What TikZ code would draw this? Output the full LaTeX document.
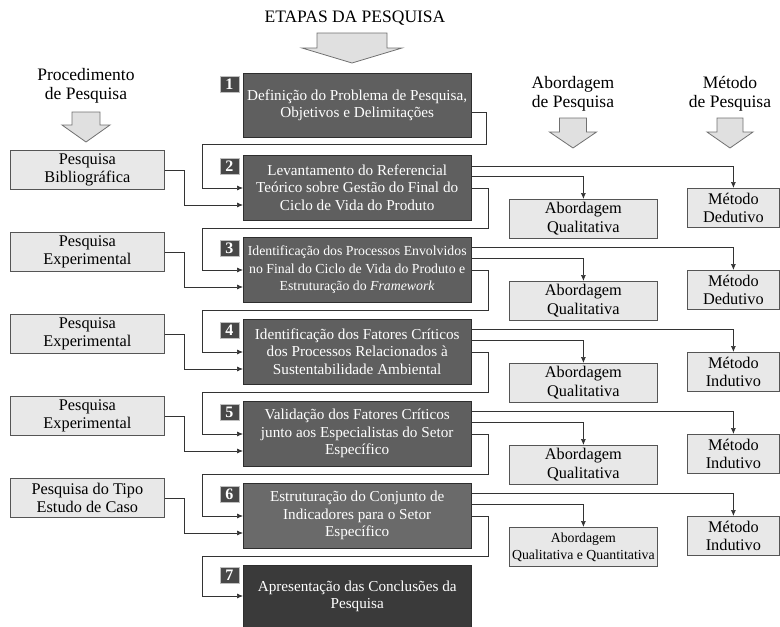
\documentclass[tikz,border=0pt]{standalone}
\usepackage{fontspec}
\setmainfont{Liberation Serif}
\usetikzlibrary{arrows.meta,calc}
\definecolor{mainfill}{HTML}{5F5F5F}
\definecolor{sixfill}{HTML}{6A6A6A}
\definecolor{sevenfill}{HTML}{3A3A3A}
\definecolor{stageline}{HTML}{2E2E2E}
\definecolor{numfill}{HTML}{484848}
\definecolor{lightfill}{HTML}{E8E8E8}
\definecolor{lightline}{HTML}{555555}
\definecolor{connc}{HTML}{333333}
\definecolor{arrowfill}{HTML}{E0E0E0}
\definecolor{arrowline}{HTML}{707070}
\newcommand{\bkarrow}[5]{\draw[blockarrow] (#1-#3,#2) -- (#1+#3,#2) -- (#1+#3,#2+#5) -- (#1+#4,#2+#5) -- (#1,#2+30) -- (#1-#4,#2+#5) -- (#1-#3,#2+#5) -- cycle;}
\begin{document}
\begin{tikzpicture}[x=1pt,y=-1pt,
  stage/.style={draw=stageline, fill=mainfill, text=white, minimum width=228pt, minimum height=65pt, inner sep=0pt, align=center, anchor=north west, font=\fontsize{15.2}{17.5}\selectfont},
  numbox/.style={draw=white!75!black, fill=numfill, text=white, minimum width=19pt, minimum height=16pt, inner sep=0pt, anchor=north east, font=\fontsize{16}{16}\selectfont\bfseries},
  lbox/.style={draw=lightline, fill=lightfill, minimum width=154pt, minimum height=39pt, inner sep=0pt, align=center, anchor=north west, line width=0.8pt, font=\fontsize{16.3}{18.5}\selectfont},
  abox/.style={lbox, minimum width=148pt},
  mbox/.style={lbox, minimum width=92pt},
  conn/.style={draw=connc, line width=0.7pt, -{Latex[length=6pt,width=5pt]}},
  head/.style={align=center, font=\fontsize{17.5}{19}\selectfont},
  blockarrow/.style={fill=arrowfill, draw=arrowline, line width=0.8pt, line join=miter}
]
\useasboundingbox (0,0) rectangle (780,627);

% headings
\node[head] (title) at (355,18) {ETAPAS DA PESQUISA};
\node[head] (hproc) at (86,86) {Procedimento\\de Pesquisa};
\node[head] (habor) at (573,94) {Abordagem\\de Pesquisa};
\node[head] (hmet) at (730,94) {Método\\de Pesquisa};
\bkarrow{352}{33}{35}{50}{15}
\bkarrow{86}{112}{14}{24}{13}
\bkarrow{573}{118}{13.5}{23.5}{14}
\bkarrow{730}{118}{13}{23}{14}

% stages
\node[stage, minimum height=64pt] (b1) at (243,73) {Definição do Problema de Pesquisa,\\Objetivos e Delimitações};
\node[stage] (b2) at (243,155) {Levantamento do Referencial\\Teórico sobre Gestão do Final do\\Ciclo de Vida do Produto};
\node[stage, font=\fontsize{13.8}{17.5}\selectfont] (b3) at (243,237) {Identificação dos Processos Envolvidos\\no Final do Ciclo de Vida do Produto e\\Estruturação do \textit{Framework}};
\node[stage] (b4) at (243,319) {Identificação dos Fatores Críticos\\dos Processos Relacionados à\\Sustentabilidade Ambiental};
\node[stage] (b5) at (243,401) {Validação dos Fatores Críticos\\junto aos Especialistas do Setor\\Específico};
\node[stage, fill=sixfill] (b6) at (243,483) {Estruturação do Conjunto de\\Indicadores para o Setor\\Específico};
\node[stage, fill=sevenfill, minimum height=62pt] (b7) at (243,565) {Apresentação das Conclusões da\\Pesquisa};

\node[numbox] (n1) at ([xshift=-4pt,yshift=-3pt]b1.north west) {1};
\node[numbox] (n2) at ([xshift=-4pt,yshift=-3pt]b2.north west) {2};
\node[numbox] (n3) at ([xshift=-4pt,yshift=-3pt]b3.north west) {3};
\node[numbox] (n4) at ([xshift=-4pt,yshift=-3pt]b4.north west) {4};
\node[numbox] (n5) at ([xshift=-4pt,yshift=-3pt]b5.north west) {5};
\node[numbox] (n6) at ([xshift=-4pt,yshift=-3pt]b6.north west) {6};
\node[numbox] (n7) at ([xshift=-4pt,yshift=-2pt]b7.north west) {7};

% left boxes
\node[lbox] (l2) at (10,150) {Pesquisa\\Bibliográfica};
\node[lbox] (l3) at (10,232) {Pesquisa\\Experimental};
\node[lbox] (l4) at (10,314) {Pesquisa\\Experimental};
\node[lbox] (l5) at (10,396) {Pesquisa\\Experimental};
\node[lbox] (l6) at (10,478) {Pesquisa do Tipo\\Estudo de Caso};

% right boxes
\node[abox] (a2) at (509,199) {Abordagem\\Qualitativa};
\node[abox] (a3) at (509,281) {Abordagem\\Qualitativa};
\node[abox] (a4) at (509,363) {Abordagem\\Qualitativa};
\node[abox] (a5) at (509,445) {Abordagem\\Qualitativa};
\node[abox, font=\fontsize{13.8}{17}\selectfont] (a6) at (509,527) {Abordagem\\Qualitativa e Quantitativa};
\node[mbox] (m2) at (687,188) {Método\\Dedutivo};
\node[mbox] (m3) at (687,270) {Método\\Dedutivo};
\node[mbox] (m4) at (687,352) {Método\\Indutivo};
\node[mbox] (m5) at (687,434) {Método\\Indutivo};
\node[mbox] (m6) at (687,516) {Método\\Indutivo};

% chain connectors
\draw[conn] ([yshift=-39pt]b1.north east) -- ++(15,0) |- ([xshift=-41pt,yshift=11pt]b2.north west) |- ([yshift=-33pt]b2.north west);
\draw[conn] ([yshift=-33pt]b2.north east) -- ++(17,0) |- ([xshift=-41pt,yshift=9pt]b3.north west) |- ([yshift=-33pt]b3.north west);
\draw[conn] ([yshift=-33pt]b3.north east) -- ++(17,0) |- ([xshift=-41pt,yshift=9pt]b4.north west) |- ([yshift=-33pt]b4.north west);
\draw[conn] ([yshift=-33pt]b4.north east) -- ++(17,0) |- ([xshift=-41pt,yshift=9pt]b5.north west) |- ([yshift=-33pt]b5.north west);
\draw[conn] ([yshift=-33pt]b5.north east) -- ++(17,0) |- ([xshift=-41pt,yshift=9pt]b6.north west) |- ([yshift=-33pt]b6.north west);
\draw[conn] ([yshift=-33pt]b6.north east) -- ++(17,0) |- ([xshift=-41pt,yshift=9pt]b7.north west) |- ([yshift=-31pt]b7.north west);

% left connectors
\draw[conn] (l2.east) -- ++(20,0) |- ([yshift=-50pt]b2.north west);
\draw[conn] (l3.east) -- ++(20,0) |- ([yshift=-50pt]b3.north west);
\draw[conn] (l4.east) -- ++(20,0) |- ([yshift=-50pt]b4.north west);
\draw[conn] (l5.east) -- ++(20,0) |- ([yshift=-50pt]b5.north west);
\draw[conn] (l6.east) -- ++(20,0) |- ([yshift=-50pt]b6.north west);

% right connectors
\draw[conn] ([yshift=-11pt]b2.north east) -| (m2.north);
\draw[conn] ([yshift=-21.5pt]b2.north east) -| (a2.north);
\draw[conn] ([yshift=-10pt]b3.north east) -| (m3.north);
\draw[conn] ([yshift=-21.5pt]b3.north east) -| (a3.north);
\draw[conn] ([yshift=-10pt]b4.north east) -| (m4.north);
\draw[conn] ([yshift=-21.5pt]b4.north east) -| (a4.north);
\draw[conn] ([yshift=-10pt]b5.north east) -| (m5.north);
\draw[conn] ([yshift=-21.5pt]b5.north east) -| (a5.north);
\draw[conn] ([yshift=-10pt]b6.north east) -| (m6.north);
\draw[conn] ([yshift=-21.5pt]b6.north east) -| (a6.north);
\end{tikzpicture}
\end{document}
